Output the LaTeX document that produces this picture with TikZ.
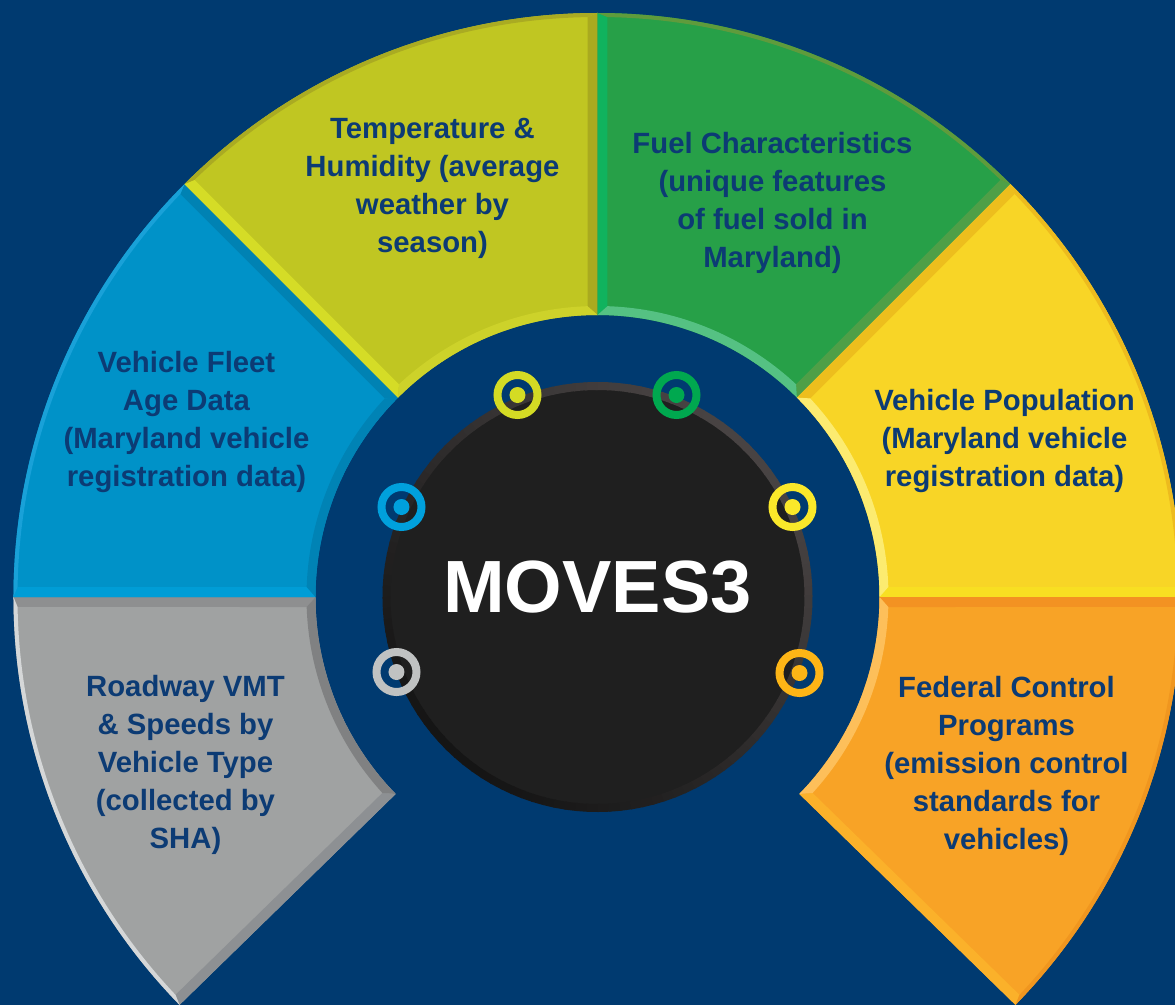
\documentclass[tikz,border=0pt]{standalone}
\usepackage{fontspec}
\setmainfont{Liberation Sans}

% palette
\definecolor{bg}{HTML}{003A70}
\definecolor{txtblue}{HTML}{0C3B74}
\definecolor{coreblack}{HTML}{1F1F1F}
\definecolor{ringlight}{HTML}{484343}
\definecolor{ringdark}{HTML}{151515}

\definecolor{grayMain}{HTML}{A0A2A2}
\definecolor{grayS}{HTML}{8E8F90}
\definecolor{grayE}{HTML}{8D9093}
\definecolor{grayI}{HTML}{808182}
\definecolor{grayO}{HTML}{D5D7D8}

\definecolor{blueMain}{HTML}{0092C8}
\definecolor{blueS}{HTML}{0082B3}
\definecolor{blueE}{HTML}{009DD6}
\definecolor{blueI}{HTML}{0083B5}
\definecolor{blueO}{HTML}{19A1D8}

\definecolor{ygMain}{HTML}{C0C622}
\definecolor{ygS}{HTML}{A9AA1F}
\definecolor{ygE}{HTML}{D5DC26}
\definecolor{ygI}{HTML}{CDD22A}
\definecolor{ygO}{HTML}{AAAB22}

\definecolor{grnMain}{HTML}{27A048}
\definecolor{grnS}{HTML}{4E9F47}
\definecolor{grnE}{HTML}{10B35E}
\definecolor{grnI}{HTML}{55C183}
\definecolor{grnO}{HTML}{5F9B3C}

\definecolor{ylwMain}{HTML}{F8D526}
\definecolor{ylwS}{HTML}{F8DF22}
\definecolor{ylwE}{HTML}{EDBE1D}
\definecolor{ylwI}{HTML}{FCEB70}
\definecolor{ylwO}{HTML}{EDBB1E}

\definecolor{orgMain}{HTML}{F8A326}
\definecolor{orgS}{HTML}{FBB12A}
\definecolor{orgE}{HTML}{F39222}
\definecolor{orgI}{HTML}{FDBF5A}
\definecolor{orgO}{HTML}{F0961F}

% marker colours
\definecolor{mkGray}{HTML}{C0C2C2}
\definecolor{mkBlue}{HTML}{00A0DC}
\definecolor{mkYG}{HTML}{D4DB24}
\definecolor{mkGreen}{HTML}{00A84F}
\definecolor{mkYellow}{HTML}{FAE82A}
\definecolor{mkOrange}{HTML}{FDB516}

% ring geometry
\def\rIn{282}\def\rOut{584}
\def\rInS{291}\def\rOutS{580}

% annular sector with bevelled edges:
% #1 start angle, #2 end angle, #3 face, #4 start edge, #5 end edge, #6 inner edge, #7 outer edge
\newcommand\ringsegment[7]{%
  \pgfmathsetmacro\segSa{#1}\pgfmathsetmacro\segEa{#2}%
  \pgfmathsetmacro\segSi{#1+\dIn}\pgfmathsetmacro\segSo{#1+\dOut}%
  \pgfmathsetmacro\segEi{#2-\dIn}\pgfmathsetmacro\segEo{#2-\dOut}%
  \fill[#3] (\segSa:\rIn) -- (\segSa:\rOut)
     arc[start angle=\segSa, end angle=\segEa, radius=\rOut]
     -- (\segEa:\rIn) arc[start angle=\segEa, end angle=\segSa, radius=\rIn] -- cycle;
  \fill[#4] (\segSa:\rIn) -- (\segSa:\rOut) -- (\segSo:\rOutS) -- (\segSi:\rInS) -- cycle;
  \fill[#5] (\segEa:\rIn) -- (\segEa:\rOut) -- (\segEo:\rOutS) -- (\segEi:\rInS) -- cycle;
  \fill[#6] (\segSa:\rIn) arc[start angle=\segSa, end angle=\segEa, radius=\rIn]
     -- (\segEi:\rInS) arc[start angle=\segEi, end angle=\segSi, radius=\rInS] -- cycle;
  \fill[#7] (\segSa:\rOut) arc[start angle=\segSa, end angle=\segEa, radius=\rOut]
     -- (\segEo:\rOutS) arc[start angle=\segEo, end angle=\segSo, radius=\rOutS] -- cycle;
}

\begin{document}
\begin{tikzpicture}[x=1pt, y=1pt,
  lbl/.style={text=txtblue, font=\fontsize{29.3}{38}\selectfont\bfseries,
              align=center, inner sep=0pt},
  marker/.style={circle, draw=#1, line width=8pt, minimum size=40pt, inner sep=0pt},
  title/.style={text=white, font=\fontsize{74}{74}\selectfont\bfseries, inner sep=0pt}]

\pgfmathsetmacro\dIn{asin(10/\rInS)}
\pgfmathsetmacro\dOut{asin(10/\rOutS)}

% canvas
\fill[bg] (-597.5,-408) rectangle (577.5,597);
\useasboundingbox (-597.5,-408) rectangle (577.5,597);

% six input segments
\ringsegment{180}{224.3}{grayMain}{grayS}{grayE}{grayI}{grayO}
\ringsegment{135}{180}{blueMain}{blueS}{blueE}{blueI}{blueO}
\ringsegment{90}{135}{ygMain}{ygS}{ygE}{ygI}{ygO}
\ringsegment{45}{90}{grnMain}{grnS}{grnE}{grnI}{grnO}
\ringsegment{0}{45}{ylwMain}{ylwS}{ylwE}{ylwI}{ylwO}
\ringsegment{-44.3}{0}{orgMain}{orgS}{orgE}{orgI}{orgO}

% central disc with shaded rim
\fill[coreblack] (0,0) circle[radius=212];
\foreach \a in {0,3,...,357}{
  \pgfmathsetmacro\pct{50+50*cos(\a-45)}
  \draw[ringlight!\pct!ringdark, line width=8pt]
    (\a:211) arc[start angle=\a, end angle=\a+3.5, radius=211];
}
\node[title] (core) at (0,10) {MOVES3};

% markers on the rim
\node[marker=mkYG]     (mYG)     at (-80,202)  {};
\node[marker=mkGreen]  (mGreen)  at (79,202)   {};
\node[marker=mkBlue]   (mBlue)   at (-196,90)  {};
\node[marker=mkYellow] (mYellow) at (195,90)   {};
\node[marker=mkGray]   (mGray)   at (-201,-75) {};
\node[marker=mkOrange] (mOrange) at (202,-76)  {};
\fill[mkYG]     (mYG.center)     circle[radius=8];
\fill[mkGreen]  (mGreen.center)  circle[radius=8];
\fill[mkBlue]   (mBlue.center)   circle[radius=8];
\fill[mkYellow] (mYellow.center) circle[radius=8];
\fill[mkGray]   (mGray.center)   circle[radius=8];
\fill[mkOrange] (mOrange.center) circle[radius=8];

% segment labels
\node[lbl] (temp) at (-165,408.5) {Temperature \&\\Humidity (average\\weather by\\season)};
\node[lbl] (fuel) at (175,394) {Fuel Characteristics\\(unique features\\of fuel sold in\\Maryland)};
\node[lbl] (fleet) at (-411,175) {Vehicle Fleet\\Age Data\\(Maryland vehicle\\registration data)};
\node[lbl] (pop) at (407,156) {Vehicle Population\\(Maryland vehicle\\registration data)};
\node[lbl] (vmt) at (-412,-168) {Roadway VMT\\\& Speeds by\\Vehicle Type\\(collected by\\SHA)};
\node[lbl] (fed) at (409,-169) {Federal Control\\Programs\\(emission control\\standards for\\vehicles)};
\end{tikzpicture}
\end{document}
